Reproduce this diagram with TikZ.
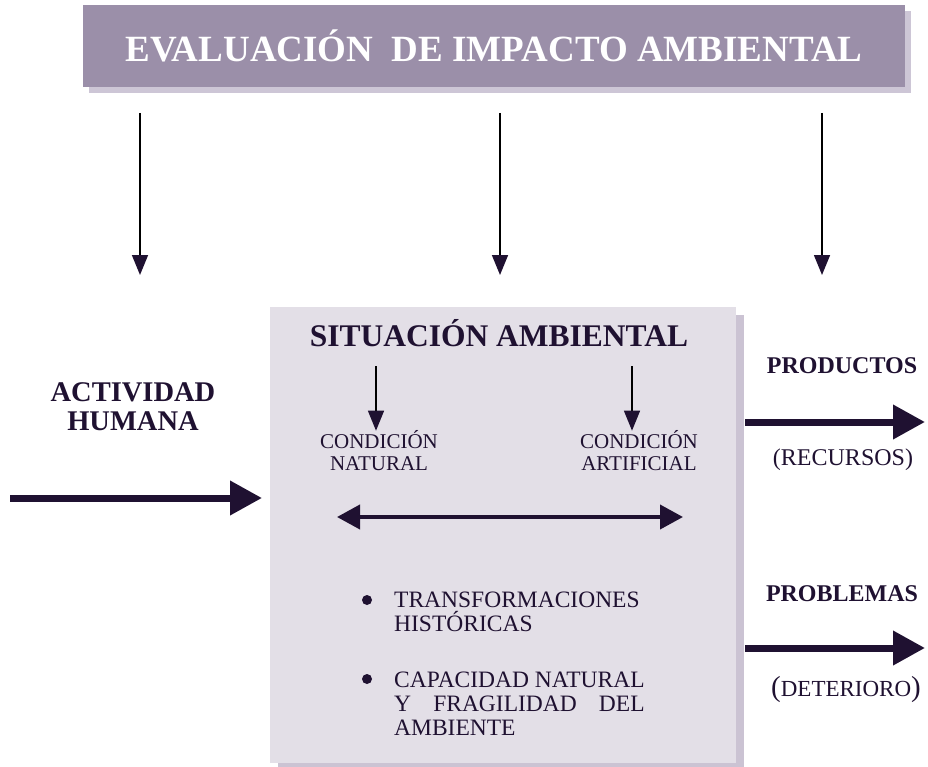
\documentclass[tikz,border=0pt]{standalone}
\usepackage{fontspec}
\setmainfont{Liberation Serif}
\usepackage{calc}
\usetikzlibrary{arrows.meta}
\definecolor{inkpurple}{HTML}{1F1131}
\definecolor{barpurple}{HTML}{9B8FA9}
\definecolor{barshade}{HTML}{CDC6D6}
\definecolor{boxlilac}{HTML}{E3DFE7}
\definecolor{boxshade}{HTML}{CBC3D3}

\begin{document}
\begin{tikzpicture}[x=1pt, y=-1pt]
    \tikzstyle{heading} = [font=\bfseries\fontsize{24}{29}\selectfont, text=inkpurple, align=center, inner sep=0pt]
    \tikzstyle{plain} = [font=\fontsize{21}{22}\selectfont, text=inkpurple, align=center, inner sep=0pt]
    \tikzstyle{listtext} = [font=\fontsize{23.5}{24}\selectfont, text=inkpurple, align=left, inner sep=0pt, anchor=north west]
    \tikzstyle{dot} = [circle, fill=inkpurple, inner sep=0pt, minimum size=10pt]
    \tikzstyle{thinarrow} = [draw=black, line width=1.6pt, -{Triangle[length=20pt, width=16pt, color=inkpurple]}]
    \tikzstyle{fatarrow} = [draw=inkpurple, line width=7pt, -{Triangle[length=32pt, width=33pt]}]
    \tikzstyle{linkarrow} = [draw=inkpurple, line width=4pt, {Triangle[length=23pt, width=24pt]}-{Triangle[length=23pt, width=24pt]}]
    \useasboundingbox (0,0) rectangle (928,767);

    % title bar
    \fill[barshade] (89,11) rectangle (911,93);
    \node[fill=barpurple, minimum width=822pt, minimum height=82pt, inner sep=0pt,
          text=white, font=\bfseries\fontsize{37}{40}\selectfont] (title) at (494,46) {EVALUACIÓN\ \ DE IMPACTO AMBIENTAL};
    \foreach \x in {140,500,822} {
        \coordinate (top\x) at (\x,113);
        \coordinate (bot\x) at (\x,275);
        \draw[thinarrow] (top\x) -- (bot\x);
    }

    % situacion ambiental
    \fill[boxshade] (278,315) rectangle (744,771);
    \node[fill=boxlilac, minimum width=466pt, minimum height=456pt, inner sep=0pt] (box) at (503,535) {};
    \node[heading, font=\bfseries\fontsize{31.5}{34}\selectfont] (situacion) at (499,333) {SITUACIÓN AMBIENTAL};
    \node[plain] (natural) at (379,451) {CONDICIÓN\\NATURAL};
    \node[plain] (artificial) at (639,451) {CONDICIÓN\\ARTIFICIAL};
    \coordinate (natural in) at (376,366);
    \coordinate (artificial in) at (632,366);
    \draw[thinarrow, line width=1.4pt] (natural in) -- (natural in |- natural.north);
    \draw[thinarrow, line width=1.4pt] (artificial in) -- (artificial in |- artificial.north);
    \coordinate (link left) at (337,517);
    \coordinate (link right) at (683,517);
    \draw[linkarrow] (link left) -- (link right);

    \node[dot] (dot1) at (367,600) {};
    \node[dot] (dot2) at (367,679) {};
    \node[listtext] (historia) at (394,592) {TRANSFORMACIONES\\HISTÓRICAS};
    \node[listtext] (fragilidad) at (394,672) {CAPACIDAD NATURAL\\\makebox[\widthof{CAPACIDAD NATURAL}][s]{Y FRAGILIDAD DEL}\\AMBIENTE};

    % entrada
    \node[heading, font=\bfseries\fontsize{28.5}{29}\selectfont] (actividad) at (133,407) {ACTIVIDAD\\HUMANA};
    \coordinate (act start) at (10,498);
    \coordinate (act end) at (262,498);
    \draw[fatarrow] (act start) -- (act end);

    % salidas
    \node[heading, font=\bfseries\fontsize{24}{24}\selectfont] (productos) at (842,366) {PRODUCTOS};
    \node[plain, font=\fontsize{24}{24}\selectfont] (recursos) at (843,460) {(RECURSOS)};
    \node[heading, font=\bfseries\fontsize{24}{24}\selectfont] (problemas) at (842,594) {PROBLEMAS};
    \node[plain, font=\fontsize{23}{24}\selectfont] (deterioro) at (846,690) {{\fontsize{29}{29}\selectfont(}DETERIORO{\fontsize{29}{29}\selectfont)}};
    \coordinate (prod start) at (745,422);
    \coordinate (prod end) at (925,422);
    \coordinate (prob start) at (745,648);
    \coordinate (prob end) at (925,648);
    \draw[fatarrow] (prod start) -- (prod end);
    \draw[fatarrow] (prob start) -- (prob end);
\end{tikzpicture}
\end{document}
